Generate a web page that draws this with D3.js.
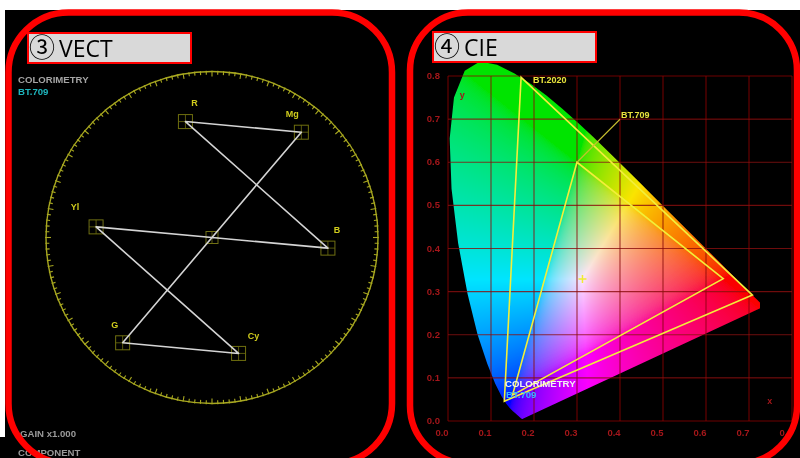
<!DOCTYPE html>
<html><head><meta charset="utf-8">
<script src="https://cdn.jsdelivr.net/npm/d3@7"></script>
<style>html,body{margin:0;padding:0;background:#fff;overflow:hidden}svg{display:block}</style>
</head><body>
<svg id="c" width="800" height="458"></svg>
<script>
// ---------- DATA ----------
// Vectorscope: colour bar trace (BT.709 Cb/Cr), in trace order
const barNames = ["White","Yl","Cy","G","Mg","R","B","Black"];
const barCb = [0, -0.5, 0.1146, -0.3854, 0.3854, -0.1146, 0.5, 0];
const barCr = [0, 0.0458, -0.5, -0.4542, 0.4542, 0.5, -0.0458, 0];
const targetNames = ["R","Mg","B","Cy","G","Yl"];
const graticuleRadius = 0.716;
const vectTexts = ["COLORIMETRY","BT.709","GAIN x1.000","COMPONENT"];
const panelTitles = ["③ VECT","④ CIE"];

// CIE 1931 spectral locus (380-700 nm)
const locusX = [0.1741,0.1740,0.1738,0.1736,0.1733,0.1730,0.1726,0.1721,0.1714,0.1703,0.1689,0.1669,0.1644,0.1611,0.1566,0.1510,0.1440,0.1355,0.1241,0.1096,0.0913,0.0687,0.0454,0.0235,0.0082,0.0039,0.0139,0.0389,0.0743,0.1142,0.1547,0.1929,0.2296,0.2658,0.3016,0.3373,0.3731,0.4087,0.4441,0.4788,0.5125,0.5448,0.5752,0.6029,0.6270,0.6482,0.6658,0.6801,0.6915,0.7006,0.7079,0.7140,0.7190,0.7230,0.7260,0.7283,0.7300,0.7311,0.7320,0.7334,0.7344,0.7347];
const locusY = [0.0050,0.0050,0.0049,0.0049,0.0048,0.0048,0.0048,0.0048,0.0051,0.0058,0.0069,0.0086,0.0109,0.0138,0.0177,0.0227,0.0297,0.0399,0.0578,0.0868,0.1327,0.2007,0.2950,0.4127,0.5384,0.6548,0.7502,0.8120,0.8338,0.8262,0.8059,0.7816,0.7543,0.7243,0.6923,0.6589,0.6245,0.5896,0.5547,0.5202,0.4866,0.4544,0.4242,0.3965,0.3725,0.3514,0.3340,0.3197,0.3083,0.2993,0.2920,0.2859,0.2809,0.2770,0.2740,0.2717,0.2700,0.2689,0.2680,0.2666,0.2656,0.2653];
const gamutNames = ["BT.2020","BT.709"];
const bt2020X = [0.708,0.170,0.131], bt2020Y = [0.292,0.797,0.046];
const bt709X  = [0.640,0.300,0.150], bt709Y  = [0.330,0.600,0.060];
const whitePoint = [0.3127, 0.3290];
const axisTicks = [0,0.1,0.2,0.3,0.4,0.5,0.6,0.7,0.8];
const tickLabels = ["0.0","0.1","0.2","0.3","0.4","0.5","0.6","0.7","0.8"];
const cieTexts = ["COLORIMETRY","BT.709"];

// ---------- DRAW ----------
const svg = d3.select("#c");
const FONT = "'Liberation Sans', Arial, sans-serif";
const defs = svg.append("defs");
defs.append("filter").attr("id","soft").append("feGaussianBlur").attr("stdDeviation",0.45);

svg.append("rect").attr("x",0).attr("y",0).attr("width",800).attr("height",458).attr("fill","#fff");
svg.append("rect").attr("x",5).attr("y",10).attr("width",795).attr("height",448).attr("fill","#000");
svg.append("rect").attr("x",0).attr("y",437).attr("width",5).attr("height",21).attr("fill","#000");

// ===== Vectorscope =====
const vcx = 212, vcy = 237.5, vr = 166;
const vx = d3.scaleLinear().domain([-graticuleRadius, graticuleRadius]).range([vcx-vr, vcx+vr]);
const vy = d3.scaleLinear().domain([-graticuleRadius, graticuleRadius]).range([vcy+vr, vcy-vr]);
const gV = svg.append("g").attr("filter","url(#soft)");
const gratCol = "#a8a820";
gV.append("circle").attr("cx",vx(0)).attr("cy",vy(0)).attr("r",vx(graticuleRadius)-vx(0))
  .attr("fill","none").attr("stroke",gratCol).attr("stroke-width",1.4);
const tickAngles = d3.range(0,360,2);
gV.selectAll("line.tk").data(tickAngles).join("line")
  .attr("x1",a=>vx(0)+(vr-(a%10===0?5:3.2))*Math.cos(a*Math.PI/180))
  .attr("y1",a=>vy(0)-(vr-(a%10===0?5:3.2))*Math.sin(a*Math.PI/180))
  .attr("x2",a=>vx(0)+(vr+0.8)*Math.cos(a*Math.PI/180))
  .attr("y2",a=>vy(0)-(vr+0.8)*Math.sin(a*Math.PI/180))
  .attr("stroke",gratCol).attr("stroke-width",1.1);

// target boxes
const tgt = targetNames.map(n => { const i = barNames.indexOf(n); return {n, x: vx(barCb[i]), y: vy(barCr[i])}; });
const boxCol = "#6f6f12";
function drawBox(g, x, y, s){
  g.append("rect").attr("x",x-s/2).attr("y",y-s/2).attr("width",s).attr("height",s)
   .attr("fill","none").attr("stroke",boxCol).attr("stroke-width",1);
  g.append("line").attr("x1",x-s/2).attr("x2",x+s/2).attr("y1",y).attr("y2",y).attr("stroke",boxCol).attr("stroke-width",0.8);
  g.append("line").attr("x1",x).attr("x2",x).attr("y1",y-s/2).attr("y2",y+s/2).attr("stroke",boxCol).attr("stroke-width",0.8);
}
tgt.forEach(t => drawBox(gV, t.x, t.y, 14));
drawBox(gV, vx(0), vy(0), 12);

// trace
const traceLine = d3.line().x((d,i)=>vx(barCb[i])).y((d,i)=>vy(barCr[i]));
gV.append("path").attr("d", traceLine(barNames)).attr("fill","none")
  .attr("stroke","#d4d4d4").attr("stroke-width",1.6).attr("stroke-linejoin","round");

// labels
const lblOff = {R:[9,-19], Mg:[-9,-19], B:[9,-19], Cy:[15,-18], G:[-8,-18], Yl:[-21,-20]};
gV.selectAll("text.tl").data(tgt).join("text")
  .attr("x",d=>d.x+lblOff[d.n][0]).attr("y",d=>d.y+lblOff[d.n][1]+3.5)
  .attr("text-anchor","middle").attr("font-family",FONT).attr("font-weight","bold")
  .attr("font-size",9).attr("fill","#d0cc1c").text(d=>d.n);

gV.append("text").attr("x",18).attr("y",83).attr("font-family",FONT).attr("font-weight","bold")
  .attr("font-size",9.6).attr("fill","#a4a4a4").text(vectTexts[0]);
gV.append("text").attr("x",18).attr("y",95).attr("font-family",FONT).attr("font-weight","bold")
  .attr("font-size",9.6).attr("fill","#1fb5bd").text(vectTexts[1]);
gV.append("text").attr("x",20).attr("y",437).attr("font-family",FONT).attr("font-weight","bold")
  .attr("font-size",9.6).attr("fill","#9a9a9a").text(vectTexts[2]);
gV.append("text").attr("x",18).attr("y",456).attr("font-family",FONT).attr("font-weight","bold")
  .attr("font-size",9.6).attr("fill","#9a9a9a").text(vectTexts[3]);

// ===== CIE =====
const cx = d3.scaleLinear().domain([0,0.8]).range([448,792]);
const cy = d3.scaleLinear().domain([0,0.8]).range([421,76]);
const gC = svg.append("g").attr("filter","url(#soft)");
const locusPts = locusX.map((x,i)=>[cx(x), cy(locusY[i])]);
defs.append("clipPath").attr("id","locus").append("path")
  .attr("d", d3.line().curve(d3.curveLinearClosed)(locusPts));

// colour field
const fx0 = 440, fy0 = 55, fw = 320, fh = 372;
const canvas = document.createElement("canvas"); canvas.width = fw; canvas.height = fh;
const ctx = canvas.getContext("2d");
const im = ctx.createImageData(fw, fh);
function gam(v){ return v <= 0.0031308 ? 12.92*v : 1.055*Math.pow(v,1/2.4)-0.055; }
for (let j=0;j<fh;j++) for (let i=0;i<fw;i++){
  let xv = cx.invert(fx0+i+0.5), yv = Math.max(cy.invert(fy0+j+0.5), 0.004);
  xv = Math.max(xv, 0);
  const X = xv/yv, Y = 1, Z = Math.max(1-xv-yv,0)/yv;
  let r = 3.2406*X-1.5372*Y-0.4986*Z, g = -0.9689*X+1.8758*Y+0.0415*Z, b = 0.0557*X-0.2040*Y+1.0570*Z;
  r=Math.max(r,0); g=Math.max(g,0); b=Math.max(b,0);
  const m = Math.max(r,g,b,1e-6);
  const k = (j*fw+i)*4;
  im.data[k]=250*gam(r/m); im.data[k+1]=228*gam(g/m); im.data[k+2]=255*gam(b/m); im.data[k+3]=255;
}
ctx.putImageData(im,0,0);
gC.append("image").attr("x",fx0).attr("y",fy0).attr("width",fw).attr("height",fh)
  .attr("href", canvas.toDataURL()).attr("clip-path","url(#locus)");

// grid
const gridCol = "#8a0c0c";
gC.selectAll("line.gx").data(axisTicks).join("line")
  .attr("x1",d=>cx(d)).attr("x2",d=>cx(d)).attr("y1",cy(0.8)).attr("y2",cy(0))
  .attr("stroke",gridCol).attr("stroke-width",1.1).attr("opacity",0.8);
gC.selectAll("line.gy").data(axisTicks).join("line")
  .attr("y1",d=>cy(d)).attr("y2",d=>cy(d)).attr("x1",cx(0)).attr("x2",cx(0.8))
  .attr("stroke",gridCol).attr("stroke-width",1.1).attr("opacity",0.8);
const lblCol = "#a3161a";
gC.selectAll("text.xl").data(axisTicks).join("text")
  .attr("x",d=>cx(d)-6).attr("y",cy(0)+15).attr("text-anchor","middle")
  .attr("font-family",FONT).attr("font-weight","bold").attr("font-size",9.5).attr("fill",lblCol)
  .text((d,i)=>tickLabels[i]);
gC.selectAll("text.yl").data(axisTicks).join("text")
  .attr("x",cx(0)-8).attr("y",d=>cy(d)+3).attr("text-anchor","end")
  .attr("font-family",FONT).attr("font-weight","bold").attr("font-size",9.5).attr("fill",lblCol)
  .text((d,i)=>tickLabels[i]);
gC.append("text").attr("x",cx(0.033)).attr("y",cy(0.75)).attr("font-family",FONT).attr("font-weight","bold")
  .attr("font-size",9).attr("fill",lblCol).attr("text-anchor","middle").text("y");
gC.append("text").attr("x",cx(0.748)).attr("y",cy(0.04)).attr("font-family",FONT).attr("font-weight","bold")
  .attr("font-size",9).attr("fill",lblCol).attr("text-anchor","middle").text("x");

// gamut triangles
const tri = d3.line().curve(d3.curveLinearClosed).x(d=>cx(d[0])).y(d=>cy(d[1]));
const gam2020 = bt2020X.map((x,i)=>[x,bt2020Y[i]]);
const gam709 = bt709X.map((x,i)=>[x,bt709Y[i]]);
[gam2020, gam709].forEach(p => gC.append("path").attr("d",tri(p)).attr("fill","none")
  .attr("stroke","#f2ee3a").attr("stroke-width",1.6).attr("stroke-linejoin","miter"));
// labels
gC.append("text").attr("x",cx(gam2020[1][0])+12).attr("y",cy(gam2020[1][1])+6)
  .attr("font-family",FONT).attr("font-weight","bold").attr("font-size",9).attr("fill","#e8e23c").text(gamutNames[0]);
const l709 = [cx(gam709[1][0])+43, cy(gam709[1][1])-43];
gC.append("line").attr("x1",l709[0]).attr("y1",l709[1]).attr("x2",cx(gam709[1][0])).attr("y2",cy(gam709[1][1]))
  .attr("stroke","#c8c030").attr("stroke-width",1.1);
gC.append("text").attr("x",l709[0]+1).attr("y",l709[1]-1)
  .attr("font-family",FONT).attr("font-weight","bold").attr("font-size",9).attr("fill","#e8e23c").text(gamutNames[1]);
// white point
const wpx = cx(whitePoint[0]), wpy = cy(whitePoint[1]);
gC.append("path").attr("d",`M${wpx-4},${wpy}H${wpx+4}M${wpx},${wpy-4}V${wpy+4}`)
  .attr("stroke","#f0ec30").attr("stroke-width",1.5);
gC.append("text").attr("x",505).attr("y",387).attr("font-family",FONT).attr("font-weight","bold")
  .attr("font-size",9.6).attr("fill","#f2f2f2").text(cieTexts[0]);
gC.append("text").attr("x",506).attr("y",398).attr("font-family",FONT).attr("font-weight","bold")
  .attr("font-size",9.6).attr("fill","#38b8ff").text(cieTexts[1]);

// ===== frames & titles =====
svg.append("rect").attr("x",8.5).attr("y",12.5).attr("width",383.5).attr("height",451)
  .attr("rx",60).attr("fill","none").attr("stroke","#ff0000").attr("stroke-width",6.5);
svg.append("rect").attr("x",410).attr("y",12.5).attr("width",387).attr("height",451)
  .attr("rx",58).attr("fill","none").attr("stroke","#ff0000").attr("stroke-width",6.5);

const titles = [{x:28, y:33}, {x:433, y:32}];
titles.forEach((t,i) => {
  svg.append("rect").attr("x",t.x).attr("y",t.y).attr("width",163).attr("height",30)
    .attr("fill","#d9d9d9").attr("stroke","#ff0000").attr("stroke-width",2);
  const parts = panelTitles[i].split(" ");
  const tx = svg.append("text").attr("x",t.x+1).attr("y",t.y+24).attr("fill","#000");
  tx.append("tspan").attr("font-family","'Noto Sans CJK JP', 'DejaVu Sans', sans-serif").attr("font-size",26).text(parts[0]);
  tx.append("tspan").attr("dx",4).attr("font-family","'Open Sans', sans-serif").attr("font-size",23).text(parts[1]);
});
</script>
</body></html>
